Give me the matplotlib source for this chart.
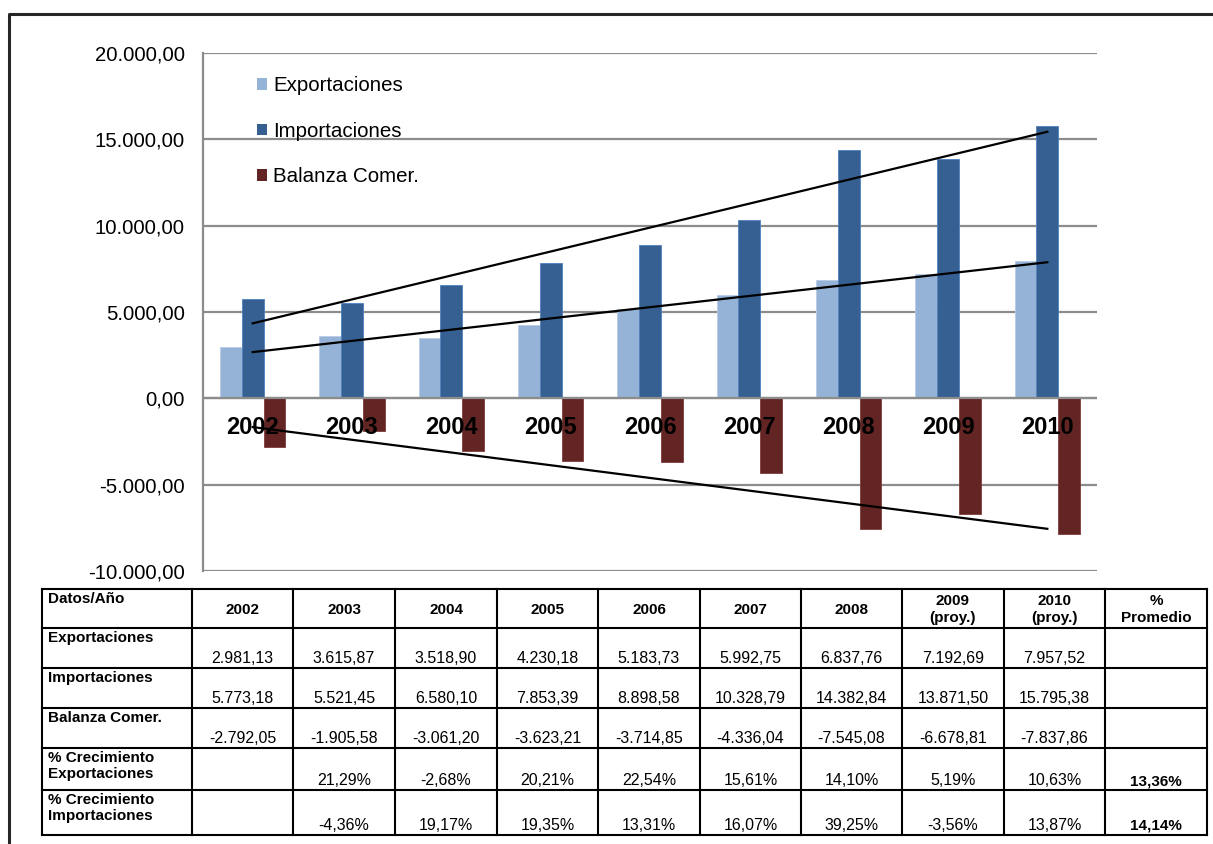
import numpy as np
import matplotlib
matplotlib.use("Agg")
import matplotlib.pyplot as plt
from matplotlib.ticker import FuncFormatter
from matplotlib.patches import Patch

plt.rcParams['font.family'] = ['Liberation Sans', 'DejaVu Sans']

# ---- data ----
years = ['2002', '2003', '2004', '2005', '2006', '2007', '2008', '2009', '2010']
header_years = ['2002', '2003', '2004', '2005', '2006', '2007', '2008',
                '2009\n(proy.)', '2010\n(proy.)']
exportaciones = [2981.13, 3615.87, 3518.90, 4230.18, 5183.73, 5992.75, 6837.76, 7192.69, 7957.52]
importaciones = [5773.18, 5521.45, 6580.10, 7853.39, 8898.58, 10328.79, 14382.84, 13871.50, 15795.38]
balanza = [-2792.05, -1905.58, -3061.20, -3623.21, -3714.85, -4336.04, -7545.08, -6678.81, -7837.86]
crec_export = [None, 21.29, -2.68, 20.21, 22.54, 15.61, 14.10, 5.19, 10.63]
crec_import = [None, -4.36, 19.17, 19.35, 13.31, 16.07, 39.25, -3.56, 13.87]
prom_export = 13.36
prom_import = 14.14

series_names = ['Exportaciones', 'Importaciones', 'Balanza Comer.']
series_colors = ['#95B3D7', '#376092', '#632523']
row_labels = ['Exportaciones', 'Importaciones', 'Balanza Comer.',
              '% Crecimiento\nExportaciones', '% Crecimiento\nImportaciones']


def es(v, dec=2):
    """Spanish number format: thousands with '.', decimals with ','."""
    s = f"{v:,.{dec}f}"
    return s.replace(",", "X").replace(".", ",").replace("X", ".")


W, H = 1213, 844
fig = plt.figure(figsize=(W / 100, H / 100), dpi=100)

# ---- bar chart ----
ax = fig.add_axes([203 / W, 1 - 571 / H, 894 / W, 518 / H], zorder=2)
x = np.arange(len(years))
bw = 0.22
edges = ['#B8CCE4', '#4F81BD', '#7F3B39']
for k, (vals, name) in enumerate(zip([exportaciones, importaciones, balanza], series_names)):
    ax.bar(x + (k - 1) * bw, vals, bw, color=series_colors[k], edgecolor=edges[k],
           linewidth=0.6, zorder=3, label=name)

# linear trend lines
for vals in [importaciones, exportaciones, balanza]:
    coef = np.polyfit(x, vals, 1)
    ends = np.array([x[0], x[-1]])
    ax.plot(ends, np.polyval(coef, ends), color='black', lw=1.6, zorder=6)

for i, yr in enumerate(years):
    ax.text(i, -1700, yr, ha='center', va='center', fontsize=17,
            fontweight='bold', zorder=5)

ax.axhline(0, color='#8C8C8C', lw=1.6, zorder=4)
ax.set_xlim(-0.5, len(years) - 0.5)
ax.set_ylim(-10000, 20000)
ax.set_yticks(np.arange(-10000, 20001, 5000))
ax.yaxis.set_major_formatter(FuncFormatter(lambda v, p: es(v)))
ax.yaxis.grid(True, color='#8C8C8C', lw=1.6)
ax.set_axisbelow(True)
ax.set_xticks([])
ax.tick_params(axis='y', length=0, pad=13, labelsize=14.6)
for s in ['top', 'right', 'bottom']:
    ax.spines[s].set_visible(False)
ax.spines['left'].set_color('#8C8C8C')
ax.spines['left'].set_linewidth(1.6)

handles = [Patch(facecolor=c, edgecolor='none') for c in series_colors]
ax.legend(handles, series_names, loc='upper left',
          bbox_to_anchor=(257 / W, 1 - 76 / H), bbox_transform=fig.transFigure,
          frameon=False, fontsize=14.8, handlelength=0.5, handleheight=0.5,
          handletextpad=0.3, labelspacing=1.3, borderpad=0, borderaxespad=0)

# ---- frame and data table (pixel coordinates) ----
ov = fig.add_axes([0, 0, 1, 1], zorder=1)
ov.set_xlim(0, W)
ov.set_ylim(H, 0)
ov.axis('off')

ov.plot([9, 9, W], [H, 14, 14], color='#262626', lw=2.2, solid_capstyle='butt')

cx = [42, 192, 293, 395, 497, 598, 700, 801, 902, 1004, 1105, 1207]
ry = [589, 628, 668, 708, 748, 790, 835]
for yv in ry:
    ov.plot([cx[0], cx[-1]], [yv, yv], color='black', lw=1.5)
for xv in cx:
    ov.plot([xv, xv], [ry[0], ry[-1]], color='black', lw=1.5)

tfs = 11
vfs = 11.5
ov.text(cx[0] + 6, ry[0] + 3, 'Datos/Año', ha='left', va='top',
        fontsize=tfs, fontweight='bold')
hy = (ry[0] + ry[1]) / 2 + 1
for j, lab in enumerate(header_years + ['%\nPromedio']):
    xc = (cx[j + 1] + cx[j + 2]) / 2
    ov.text(xc, hy, lab, ha='center', va='center', fontsize=tfs,
            fontweight='bold', linespacing=1.3)

table_rows = [
    [es(v) for v in exportaciones] + [''],
    [es(v) for v in importaciones] + [''],
    [es(v) for v in balanza] + [''],
    ['' if v is None else es(v) + '%' for v in crec_export] + [es(prom_export) + '%'],
    ['' if v is None else es(v) + '%' for v in crec_import] + [es(prom_import) + '%'],
]
for r, (lab, cells) in enumerate(zip(row_labels, table_rows)):
    top, bot = ry[r + 1], ry[r + 2]
    ov.text(cx[0] + 6, top + 3, lab, ha='left', va='top', fontsize=tfs,
            fontweight='bold', linespacing=1.2)
    for j, txt in enumerate(cells):
        xc = (cx[j + 1] + cx[j + 2]) / 2
        bold = j == len(cells) - 1
        ov.text(xc, bot - 5, txt, ha='center', va='baseline',
                fontsize=tfs if bold else vfs,
                fontweight='bold' if bold else 'normal')

fig.savefig('out.png', dpi=100, facecolor='white')
